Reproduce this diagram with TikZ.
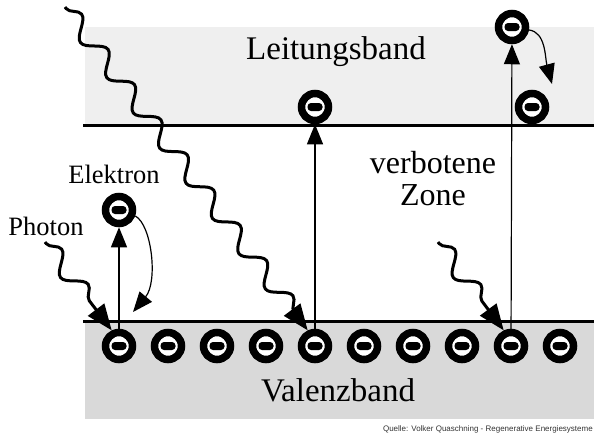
\documentclass[tikz,border=0pt]{standalone}
\usepackage{fontspec}
\setmainfont{Liberation Serif}
\newfontfamily\quellfont{Liberation Sans}
\usetikzlibrary{arrows.meta,decorations.pathmorphing}

\definecolor{leitgrau}{HTML}{EFEFEF}
\definecolor{valgrau}{HTML}{D9D9D9}

\begin{document}
\begin{tikzpicture}[
    x=1pt, y=-1pt,
    >={Triangle[length=20pt,width=16pt]}, % default arrow tip
    band/.style={line width=3pt}, % band edges
    elektron/.style={circle, draw, line width=7.5pt, fill=white,
        minimum size=27pt, inner sep=0pt,
        path picture={\fill[black, rounded corners=3.5pt]
            ([shift={(-7.5pt,-4pt)}]path picture bounding box.center) rectangle
            ([shift={(7.5pt,4pt)}]path picture bounding box.center);}},
    sprung/.style={->, line width=1.2pt}, % transitions
    photon/.style={-{Triangle[length=26pt,width=20pt]}, line width=3pt,
        decorate, decoration={snake, segment length=44pt, amplitude=9pt,
        pre length=2pt, post length=20pt}},
    beschr/.style={anchor=base, inner sep=0pt}
]
\useasboundingbox (0,0) rectangle (594,437);

% Bands
\fill[leitgrau] (85,27) rectangle (594,125);
\fill[valgrau] (85,321) rectangle (594,419);
\draw[band] (83,125) -- (594,125);
\draw[band] (83,321) -- (594,321);

% Labels
\node[beschr, font=\fontsize{33}{36}\selectfont] (leitung) at (336,59) {Leitungsband};
\node[beschr, font=\fontsize{33}{36}\selectfont] (valenz) at (338,401) {Valenzband};
\node[beschr, font=\fontsize{32}{34}\selectfont] (verboten) at (433,173) {verbotene};
\node[beschr, font=\fontsize{32}{34}\selectfont] (zone) at (433,205) {Zone};
\node[beschr, font=\fontsize{26.5}{28}\selectfont] (elektronlbl) at (114,183) {Elektron};
\node[beschr, font=\fontsize{26.5}{28}\selectfont] (photonlbl) at (46,235) {Photon};
\node[anchor=base east, inner sep=0pt, text=black!80,
      font=\quellfont\fontsize{8}{9}\selectfont] (quelle) at (593,431)
      {Quelle: Volker Quaschning - Regenerative Energiesysteme};

% Valence electrons
\foreach \i in {0,...,9}
    \node[elektron] (v\i) at ({119+49*\i},346) {};

% Excited electrons
\node[elektron] (e1) at (119,210) {};
\node[elektron] (e2) at (315,107) {};
\node[elektron] (e3) at (512,27) {};
\node[elektron] (e4) at (532,107) {};

% Transitions
\draw[sprung] (v0) -- (e1);
\draw[sprung] (v4) -- (e2);
\draw[sprung] (v8) -- (e3);
\coordinate (r1) at (133,312);
\coordinate (r2) at (552,84);
\draw[sprung] (e1.-20) .. controls (152,225) and (158,282) .. (r1);
\draw[sprung] (e3.-10) .. controls (546,32) and (545,58) .. (r2);

% Photons
\coordinate (ph1) at (65,7);
\coordinate (ph2) at (45,242);
\coordinate (ph3) at (438,242);
\draw[photon] (ph1) -- (v4.115);
\draw[photon] (ph2) -- (v0.115);
\draw[photon] (ph3) -- (v8.115);

\end{tikzpicture}
\end{document}
